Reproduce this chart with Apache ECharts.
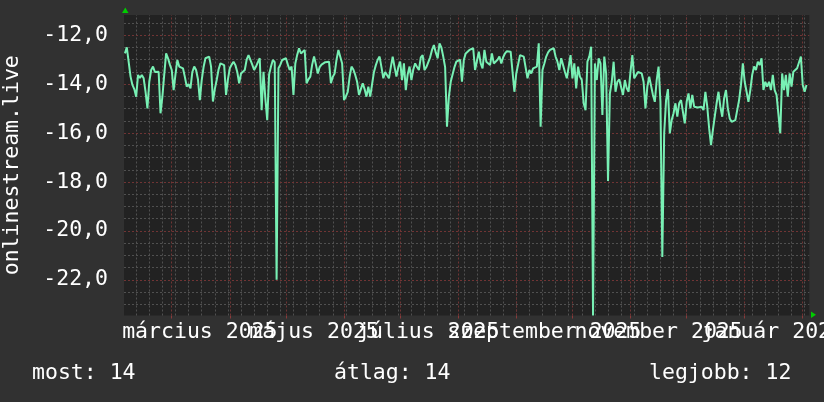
<!DOCTYPE html>
<html><head><meta charset="utf-8">
<script src="https://cdn.jsdelivr.net/npm/echarts@6/dist/echarts.min.js"></script>
<style>html,body{margin:0;padding:0;background:#313131;}#c{width:824px;height:402px;}</style>
</head><body><div id="c"></div>
<script>
// x unit = days relative to 2025-03-01 (day 0); first sample is day -25
const startDay = -25;
const values = [
-12.74,-12.49,-12.53,-13.69,-14.03,-14.2,-14.51,-13.62,-13.75,-13.62,
-13.76,-14.3,-14.99,-13.9,-13.42,-13.28,-13.5,-13.56,-13.49,-15.19,
-14.51,-13.6,-12.74,-12.94,-13.2,-13.42,-14.24,-13.6,-13.01,-13.28,
-13.3,-13.35,-13.7,-14.10,-14.0,-14.17,-13.5,-13.28,-13.42,-13.8,
-14.65,-13.83,-13.3,-12.94,-12.9,-12.87,-13.28,-14.71,-14.2,-13.83,
-13.4,-13.15,-13.2,-13.22,-14.44,-13.8,-13.35,-13.2,-13.08,-13.22,
-13.5,-13.96,-13.56,-13.5,-13.42,-13.0,-12.81,-12.87,-13.2,-13.42,
-13.28,-13.1,-12.94,-15.06,-13.49,-14.6,-15.47,-13.6,-13.28,-13.01,
-13.1,-22.0,-13.35,-13.2,-13.01,-12.95,-12.94,-13.2,-13.42,-13.28,
-14.44,-13.15,-12.8,-12.53,-12.74,-12.7,-12.6,-13.96,-13.8,-13.69,
-13.2,-12.87,-13.2,-13.56,-13.3,-13.2,-13.15,-13.1,-13.1,-13.08,
-13.96,-13.7,-13.56,-13.0,-12.6,-12.53,-13.15,-14.65,-14.5,-14.31,
-13.7,-13.28,-13.4,-13.62,-13.9,-14.44,-14.2,-13.96,-14.2,-14.51,
-14.1,-14.51,-14.0,-13.5,-13.22,-13.0,-12.87,-13.3,-13.76,-13.5,
-13.42,-13.76,-13.3,-12.87,-13.3,-13.69,-13.3,-13.08,-13.83,-13.15,
-14.24,-13.6,-13.28,-13.83,-13.4,-13.15,-13.3,-13.42,-12.9,-12.81,
-13.42,-13.3,-13.22,-12.9,-12.6,-12.4,-12.7,-12.94,-12.33,-12.5,
-12.87,-13.3,-15.74,-14.51,-13.9,-13.83,-13.3,-13.08,-13.01,-13.0,
-13.9,-13.0,-12.74,-12.67,-12.6,-12.53,-12.53,-13.42,-13.42,-12.67,
-13.15,-13.35,-12.6,-13.08,-13.1,-13.22,-12.74,-13.15,-13.08,-13.0,
-12.87,-13.15,-12.9,-12.74,-12.65,-12.6,-12.67,-12.6,-14.31,-13.56,
-13.62,-12.81,-12.85,-12.87,-12.81,-13.76,-13.42,-13.56,-13.35,-13.42,
-13.28,-12.33,-15.74,-13.42,-13.15,-12.87,-12.7,-12.6,-12.55,-12.53,
-12.87,-13.08,-13.42,-12.94,-13.22,-13.5,-13.76,-13.28,-12.81,-13.76,
-13.15,-14.17,-13.28,-13.69,-13.83,-14.78,-15.06,-13.08,-12.87,-12.47,
-23.46,-13.15,-13.83,-12.94,-13.15,-15.26,-12.87,-13.56,-17.96,-14.38,
-13.9,-13.08,-14.31,-13.9,-13.8,-13.76,-14.44,-13.83,-14.17,-14.31,
-13.49,-12.81,-13.76,-13.69,-13.5,-13.42,-13.56,-13.9,-14.99,-14.1,
-13.69,-13.76,-14.44,-14.72,-13.83,-13.28,-14.72,-21.07,-16.0,-14.65,
-14.2,-16.01,-15.47,-15.19,-14.78,-15.33,-14.78,-14.65,-14.72,-15.6,
-14.72,-14.38,-14.99,-14.44,-14.92,-14.92,-14.95,-14.99,-14.92,-15.06,
-14.31,-14.92,-15.8,-16.49,-15.88,-15.33,-14.78,-14.31,-14.92,-15.33,
-14.58,-14.24,-14.99,-15.4,-15.54,-15.47,-15.47,-15.06,-14.65,-14.04,
-13.15,-13.9,-14.31,-14.72,-14.24,-13.62,-13.28,-13.42,-13.08,-13.22,
-12.94,-14.24,-13.9,-14.1,-13.9,-14.24,-13.62,-14.24,-14.44,-14.51,
-16.01,-13.56,-14.24,-13.62,-14.51,-13.56,-14.1,-13.49,-13.42,-13.35,
-13.42,-12.87,-14.03,-14.31,-14.03
];
// month starts (red grid), label centres (month start + 15 days), label texts
const monthStarts = [0,31,61,92,122,153,184,214,245,275,306,337];
const labelDays = [15,76,137,199,260,321];
const labelTexts = ['március 2025','május 2025','július 2025','szeptember 2025','november 2025','január 2026'];
const yMajor = [-22,-20,-18,-16,-14,-12];
const yMinor = [-23,-22.5,-21.5,-21,-20.5,-19.5,-19,-18.5,-17.5,-17,-16.5,-15.5,-15,-14.5,-13.5,-13,-12.5,-11.5];
const xMin = -25.5, xMax = 340.5, yMin = -23.46, yMax = -11.17;
const seriesName = 'onlinestream.live';

const weekStarts = [];
for (let d = -19; d <= xMax; d += 7) weekStarts.push(d);

const FONT = 'DejaVu Sans Mono';
const FS = 21.5;

const last = values[values.length - 1];
const avg = values.reduce((a, b) => a + b, 0) / values.length;
const best = Math.max.apply(null, values);
const fmt = v => String(Math.round(Math.abs(v)));

// labels overlap in the original; split them over two identical axes so none is dropped
const labelsA = labelDays.filter((d, i) => i % 2 === 0);
const labelsB = labelDays.filter((d, i) => i % 2 === 1);
function labelAxis(custom, ticks) {
  return {
    type: 'value', min: xMin, max: xMax, position: 'bottom', offset: 0,
    splitLine: {show: false},
    axisLine: {show: false},
    axisTick: ticks ? {show: true, customValues: monthStarts, length: 3, lineStyle: {color: '#8a3a3a'}} : {show: false},
    axisLabel: {
      customValues: custom, interval: 0, margin: 6, color: '#ffffff', fontFamily: FONT, fontSize: FS,
      hideOverlap: false, showMinLabel: true, showMaxLabel: true,
      formatter: v => { const i = labelDays.indexOf(v); return i >= 0 ? labelTexts[i] : ''; }
    }
  };
}

const chart = echarts.init(document.getElementById('c'), null, {renderer: 'canvas'});
const gridLineCommon = {
  silent: true, symbol: ['none', 'none'], label: {show: false}, animation: false,
  emphasis: {disabled: true}
};
chart.setOption({
  backgroundColor: '#313131',
  animation: false,
  grid: {left: 124, top: 15, right: 14.7, bottom: 86.5, show: true, backgroundColor: '#222222', borderWidth: 0, outerBoundsMode: 'none'},
  xAxis: [labelAxis(labelsA, true), labelAxis(labelsB, false)],
  yAxis: {
    type: 'value', min: yMin, max: yMax,
    splitLine: {show: false}, axisLine: {show: false}, axisTick: {show: false},
    name: seriesName, nameLocation: 'middle', nameRotate: 90, nameGap: 101,
    nameTextStyle: {color: '#ffffff', fontFamily: FONT, fontSize: FS},
    axisLabel: {
      customValues: yMajor, margin: 16, color: '#ffffff', fontFamily: FONT, fontSize: FS,
      showMinLabel: true, showMaxLabel: true,
      formatter: v => v.toFixed(1).replace('.', ',')
    }
  },
  series: [
    {type: 'line', data: [], z: 1, xAxisIndex: 0, markLine: Object.assign({}, gridLineCommon, {
      lineStyle: {color: '#505050', width: 1, type: [2, 2]},
      data: weekStarts.map(d => ({xAxis: d})).concat(yMinor.map(v => ({yAxis: v})))
    })},
    {type: 'line', data: [], z: 2, xAxisIndex: 0, markLine: Object.assign({}, gridLineCommon, {
      lineStyle: {color: '#703434', width: 1, type: [2, 2]},
      data: monthStarts.map(d => ({xAxis: d})).concat(yMajor.map(v => ({yAxis: v})))
    })},
    {type: 'line', name: seriesName, z: 5, xAxisIndex: 0, showSymbol: false, symbol: 'none',
      lineStyle: {color: '#78f0b4', width: 2}, emphasis: {disabled: true},
      data: values.map((v, i) => [startDay + i, v])}
  ],
  graphic: [
    {type: 'polygon', shape: {points: [[122, 13], [128.5, 13], [125.3, 7.5]]}, style: {fill: '#00cc00'}},
    {type: 'polygon', shape: {points: [[811, 311.5], [811, 318], [816, 314.8]]}, style: {fill: '#00cc00'}},
    {type: 'text', x: 32, y: 373, style: {text: 'most: ' + fmt(last), fill: '#fff', font: FS + 'px "' + FONT + '"', verticalAlign: 'middle', textVerticalAlign: 'middle'}},
    {type: 'text', x: 334, y: 373, style: {text: 'átlag: ' + fmt(avg), fill: '#fff', font: FS + 'px "' + FONT + '"', verticalAlign: 'middle', textVerticalAlign: 'middle'}},
    {type: 'text', x: 649, y: 373, style: {text: 'legjobb: ' + fmt(best), fill: '#fff', font: FS + 'px "' + FONT + '"', verticalAlign: 'middle', textVerticalAlign: 'middle'}}
  ]
});
</script>
</body></html>
